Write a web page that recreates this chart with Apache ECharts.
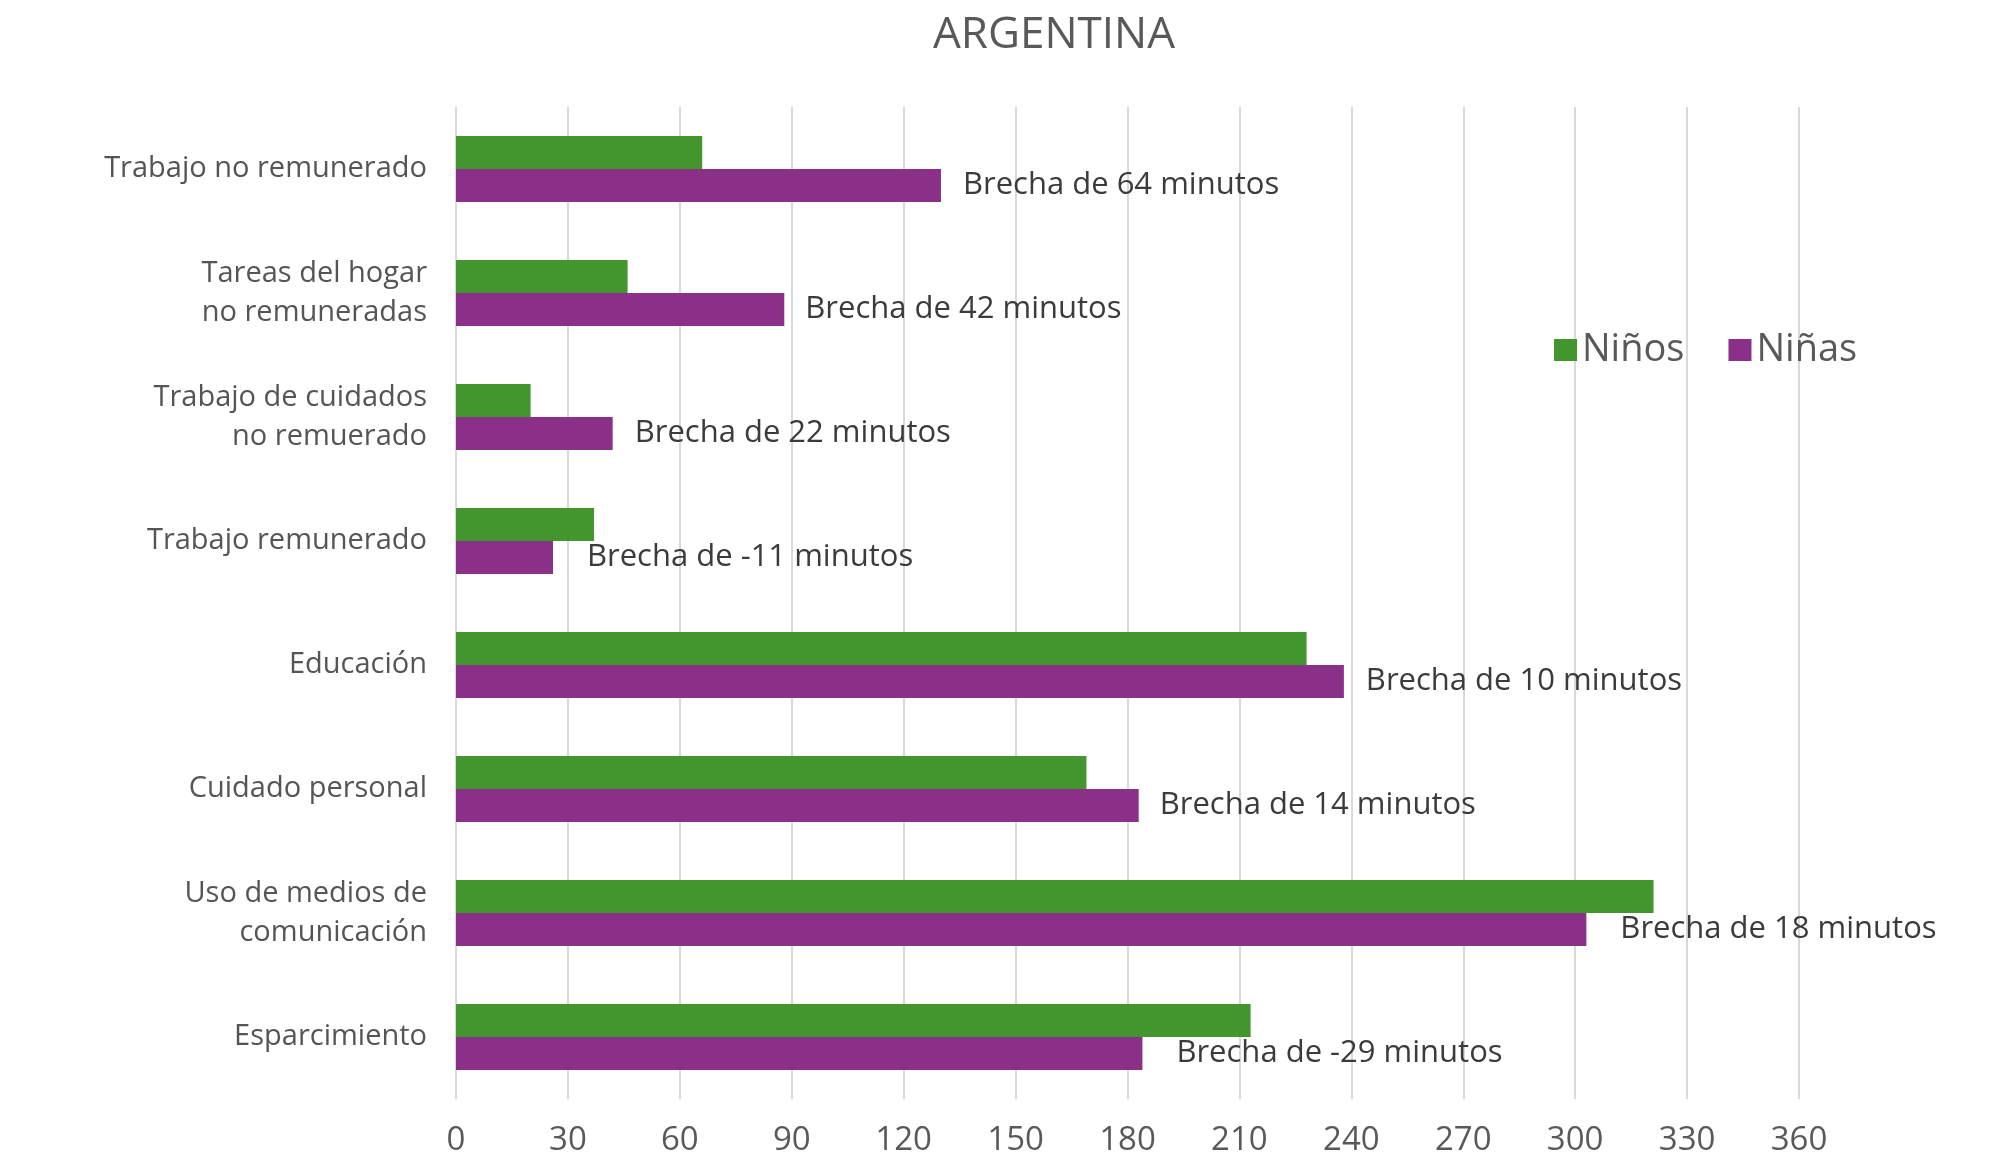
<!DOCTYPE html>
<html>
<head>
<meta charset="utf-8">
<script src="https://cdn.jsdelivr.net/npm/echarts@6/dist/echarts.min.js"></script>
<style>
  html, body { margin: 0; padding: 0; background: #fff; }
  #chart { width: 2000px; height: 1161px; }
</style>
</head>
<body>
<div id="chart"></div>
<script>
var categories = [
  'Trabajo no remunerado',
  'Tareas del hogar\nno remuneradas',
  'Trabajo de cuidados\nno remuerado',
  'Trabajo remunerado',
  'Educación',
  'Cuidado personal',
  'Uso de medios de\ncomunicación',
  'Esparcimiento'
];
var ninos = [66, 46, 20, 37, 228, 169, 321, 213];
var ninas = [130, 88, 42, 26, 238, 183, 303, 184];
var gaps = [64, 42, 22, -11, 10, 14, 18, -29];

(function () {
  var myChart = echarts.init(document.getElementById('chart'));
  var font = '"Open Sans", "Noto Sans", sans-serif';
  // labels sit a little further out on the last rows, as in the source
  var labelDistance = [22, 21, 22, 34, 22, 21, 34, 34];

  var ninasData = ninas.map(function (v, i) {
    return { value: v, label: { distance: labelDistance[i] } };
  });

  var option = {
    animation: false,
    textStyle: { fontFamily: font },
    title: {
      text: 'ARGENTINA',
      left: 1049,
      textAlign: 'center',
      top: 8,
      textStyle: { fontSize: 44, fontWeight: 'normal', color: '#595959', fontFamily: font }
    },
    legend: {
      data: ['Niños', 'Niñas'],
      left: 1549,
      top: 326,
      itemWidth: 23,
      itemHeight: 22,
      itemGap: 44,
      icon: 'rect',
      textStyle: { fontSize: 38, color: '#595959' }
    },
    grid: {
      left: 456,
      right: 201,
      top: 107,
      bottom: 62
    },
    xAxis: {
      type: 'value',
      min: 0,
      max: 360,
      interval: 30,
      axisLine: { show: false },
      axisTick: { show: false },
      splitLine: { lineStyle: { color: '#d9d9d9', width: 2 } },
      axisLabel: { fontSize: 33, color: '#595959', margin: 25 }
    },
    yAxis: {
      type: 'category',
      inverse: true,
      data: categories,
      axisLine: { show: false },
      axisTick: { show: false },
      axisLabel: { fontSize: 29, color: '#555555', margin: 29, lineHeight: 39, align: 'right' }
    },
    series: [
      {
        name: 'Niños',
        type: 'bar',
        barWidth: 33,
        barGap: '0%',
        itemStyle: { color: '#43962e' },
        data: ninos
      },
      {
        name: 'Niñas',
        type: 'bar',
        barWidth: 33,
        barGap: '0%',
        itemStyle: { color: '#8a3088' },
        label: {
          show: true,
          position: 'right',
          fontSize: 31,
          color: '#3b3b3b',
          formatter: function (p) {
            return 'Brecha de ' + gaps[p.dataIndex] + ' minutos';
          }
        },
        data: ninasData
      }
    ]
  };
  myChart.setOption(option);
})();
</script>
</body>
</html>
